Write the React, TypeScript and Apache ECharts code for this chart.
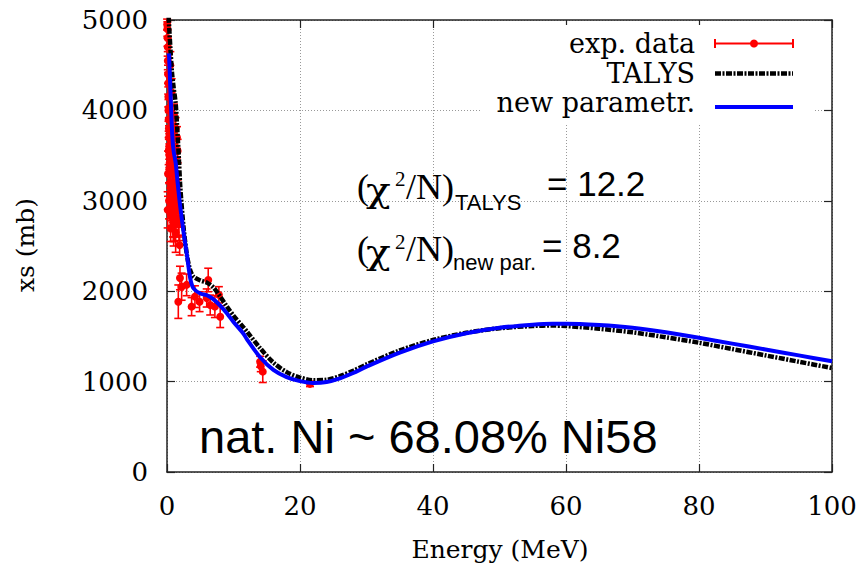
import React, { useEffect, useRef } from "react";
import * as echarts from "echarts";

// ---- data ----
const talysE = [0.05, 0.2, 0.5, 0.75, 1, 1.3, 1.5, 1.8, 2, 2.5, 3, 3.5, 4, 5, 6, 7, 8, 9, 10, 11.5, 12, 14, 16, 18, 20, 22, 24, 26, 28, 30, 35, 40, 45, 50, 55, 58, 60, 65, 70, 75, 80, 85, 90, 95, 100];
const talysXs = [5400, 5100, 4700, 4420, 4250, 4080, 3850, 3450, 3150, 2700, 2400, 2230, 2160, 2120, 2095, 2040, 1940, 1830, 1730, 1600, 1555, 1370, 1210, 1105, 1045, 1015, 1020, 1060, 1120, 1190, 1345, 1460, 1540, 1590, 1615, 1620, 1615, 1585, 1545, 1490, 1430, 1360, 1290, 1220, 1150];

const newE = [0.3, 0.5, 0.8, 1, 1.3, 1.6, 2, 2.5, 3, 3.5, 4, 5, 6, 7, 8, 9, 10, 11.5, 12, 14, 16, 18, 20, 22, 24, 26, 28, 30, 35, 40, 45, 50, 55, 58, 60, 65, 70, 75, 80, 85, 90, 95, 100];
const newXs = [4630, 4250, 3710, 3550, 3420, 3200, 2930, 2650, 2400, 2140, 2030, 1975, 1955, 1910, 1840, 1755, 1660, 1530, 1470, 1270, 1130, 1050, 1005, 985, 995, 1035, 1095, 1165, 1320, 1445, 1535, 1595, 1630, 1640, 1640, 1625, 1595, 1545, 1485, 1420, 1355, 1290, 1225];

// experimental points: energy (MeV), xs (mb), error (mb)
const expE = [0.02, 0.05, 0.08, 0.1, 0.12, 0.15, 0.18, 0.2, 0.22, 0.25, 0.28, 0.3, 0.33, 0.36, 0.4, 0.45, 0.5, 0.55, 0.6, 0.65, 0.7, 0.75, 0.8, 0.85, 0.9, 0.95, 1.0, 0.4, 0.6, 0.8, 1.0, 1.2, 1.3, 1.4, 0.9, 0.7, 0.5, 1.1, 1.2, 0.3, 0.15, 0.1, 1.3, 1.5, 1.6, 1.05, 1.15, 0.55,
  1.2, 1.4, 1.5, 1.6, 1.7, 1.8, 1.1, 1.3, 0.65, 0.85, 0.35, 0.25, 0.95, 1.45, 1.65,
  1.9, 1.95, 1.7, 2.2, 2.95, 3.7, 4.2, 4.9, 5.97, 6.2, 6.5, 7.2, 8.0, 7.8, 14.0, 14.1, 14.4, 21.5];
const expXs = [4950, 4900, 4800, 4700, 4550, 4400, 4300, 4150, 4000, 3900, 3800, 3700, 3600, 3500, 3420, 3350, 3300, 3200, 3150, 3080, 3000, 2950, 2900, 2850, 2800, 2760, 2720, 3900, 3650, 3500, 3400, 3300, 3100, 2950, 3200, 4200, 4500, 3700, 2800, 3000, 3300, 2900, 3800, 3700, 3550, 3950, 3600, 2700,
  3000, 3200, 2900, 3050, 2800, 2750, 2750, 2650, 2850, 3100, 3350, 3550, 2950, 3300, 2900,
  2510, 2146, 1884, 2050, 2070, 1829, 1940, 1884, 1925, 2124, 1847, 1829, 1718, 1960, 1220, 1170, 1110, 975];
const expErr = [60, 80, 90, 100, 100, 100, 120, 110, 120, 130, 120, 130, 140, 130, 150, 140, 160, 150, 170, 160, 180, 170, 200, 190, 200, 210, 220, 150, 150, 160, 170, 180, 200, 200, 150, 150, 150, 150, 200, 200, 250, 200, 120, 120, 130, 120, 130, 150,
  180, 170, 190, 180, 200, 190, 200, 220, 180, 170, 160, 150, 190, 170, 190,
  110, 130, 185, 150, 120, 100, 120, 110, 100, 130, 110, 120, 120, 90, 60, 60, 120, 30];

const xMin = 0, xMax = 100, xStep = 20;
const yMin = 0, yMax = 5000, yStep = 1000;

const serif = "DejaVu Serif";
const sans = "Liberation Sans";
const times = "Liberation Serif";

export default function App() {
  const ref = useRef<HTMLDivElement>(null);
  useEffect(() => {
    if (!ref.current) return;
    const chart = echarts.init(ref.current, undefined, { renderer: "svg" });
    const talysData = talysE.map((e, i) => [e, talysXs[i]]);
    const newData = newE.map((e, i) => [e, newXs[i]]);
    const expData = expE.map((e, i) => [e, expXs[i], expErr[i]]);
    const red = "#ff0000";
    const axisColor = "#222";
    const gridLine = { show: true, lineStyle: { color: "#999", width: 1, type: [1, 2] as any } };
    const txt = (x: number, y: number, text: string, font: string, align = "left", extra: any = {}) => ({
      type: "text", z: 10, x, y, ...extra,
      style: { text, font, fill: "#000", align, verticalAlign: "middle" },
    });

    const option: any = {
      animation: false,
      backgroundColor: "#fff",
      grid: { left: 167, right: 31, top: 20, bottom: 97, containLabel: false },
      xAxis: [
        {
          type: "value", min: xMin, max: xMax, interval: xStep,
          axisLine: { show: true, onZero: false, lineStyle: { color: axisColor, width: 1.5 } },
          axisTick: { show: true, inside: true, length: 8, lineStyle: { color: axisColor, width: 1.2 } },
          axisLabel: { color: "#000", fontFamily: serif, fontSize: 26, margin: 21, formatter: (v: number) => String(v) },
          splitLine: gridLine,
        },
        {
          type: "value", position: "top", min: xMin, max: xMax, interval: xStep,
          axisLine: { show: true, onZero: false, lineStyle: { color: axisColor, width: 1.5 } },
          axisTick: { show: true, inside: true, length: 8, lineStyle: { color: axisColor, width: 1.2 } },
          axisLabel: { show: false }, splitLine: { show: false },
        },
      ],
      yAxis: [
        {
          type: "value", min: yMin, max: yMax, interval: yStep,
          axisLine: { show: true, onZero: false, lineStyle: { color: axisColor, width: 1.5 } },
          axisTick: { show: true, inside: true, length: 8, lineStyle: { color: axisColor, width: 1.2 } },
          axisLabel: { color: "#000", fontFamily: serif, fontSize: 26, margin: 19, formatter: (v: number) => String(v) },
          splitLine: gridLine,
        },
        {
          type: "value", position: "right", min: yMin, max: yMax, interval: yStep,
          axisLine: { show: true, onZero: false, lineStyle: { color: axisColor, width: 1.5 } },
          axisTick: { show: true, inside: true, length: 8, lineStyle: { color: axisColor, width: 1.2 } },
          axisLabel: { show: false }, splitLine: { show: false },
        },
      ],
      series: [
        {
          name: "exp. data",
          type: "custom",
          xAxisIndex: 0, yAxisIndex: 0,
          z: 2,
          data: expData,
          renderItem: (params: any, api: any) => {
            const x = api.value(0), y = api.value(1), e = api.value(2);
            const p = api.coord([x, y]);
            const t = api.coord([x, y + e]);
            const b = api.coord([x, y - e]);
            const st = { stroke: red, lineWidth: 1.6 };
            return {
              type: "group",
              children: [
                { type: "line", shape: { x1: p[0], y1: t[1], x2: p[0], y2: b[1] }, style: st },
                { type: "line", shape: { x1: p[0] - 4, y1: t[1], x2: p[0] + 4, y2: t[1] }, style: st },
                { type: "line", shape: { x1: p[0] - 4, y1: b[1], x2: p[0] + 4, y2: b[1] }, style: st },
                { type: "circle", shape: { cx: p[0], cy: p[1], r: 4 }, style: { fill: red } },
              ],
            };
          },
        },
        {
          name: "TALYS",
          type: "line",
          data: talysData,
          showSymbol: false,
          smooth: 0.3,
          z: 3,
          lineStyle: { color: "#000", width: 4.5, type: [6, 1.5, 2, 1.5] },
        },
        {
          name: "new parametr.",
          type: "line",
          data: newData,
          showSymbol: false,
          smooth: 0.3,
          z: 4,
          lineStyle: { color: "#0000ff", width: 4 },
        },
      ],
      graphic: [
        // legend background
        { type: "rect", z: 1, shape: { x: 480, y: 25, width: 334, height: 100 }, style: { fill: "#fff" } },
        txt(695, 43, "exp. data", `27px '${serif}'`, "right"),
        txt(695, 73, "TALYS", `27px '${serif}'`, "right"),
        txt(695, 102, "new parametr.", `27px '${serif}'`, "right"),
        { type: "line", z: 10, shape: { x1: 715, y1: 43.5, x2: 793, y2: 43.5 }, style: { stroke: red, lineWidth: 2 } },
        { type: "line", z: 10, shape: { x1: 715, y1: 39, x2: 715, y2: 48 }, style: { stroke: red, lineWidth: 2 } },
        { type: "line", z: 10, shape: { x1: 793, y1: 39, x2: 793, y2: 48 }, style: { stroke: red, lineWidth: 2 } },
        { type: "circle", z: 10, shape: { cx: 754, cy: 43.5, r: 4 }, style: { fill: red } },
        { type: "line", z: 10, shape: { x1: 715, y1: 73.5, x2: 793, y2: 73.5 }, style: { stroke: "#000", lineWidth: 4.5, lineDash: [6, 1.5, 2, 1.5] } },
        { type: "line", z: 10, shape: { x1: 715, y1: 107, x2: 793, y2: 107 }, style: { stroke: "#0000ff", lineWidth: 4 } },
        // chi^2 annotations
        txt(357, 187, "(", `36px '${times}'`),
        txt(366, 190, "χ", `34px '${serif}'`, "left", { scaleX: 1.2 }),
        txt(395, 179, "2", `21px '${times}'`),
        txt(406, 187, "/N)", `36px '${times}'`),
        txt(455, 202, "TALYS", `22px '${sans}'`),
        txt(547, 183, "= 12.2", `35px '${sans}'`),
        txt(357, 249, "(", `36px '${times}'`),
        txt(366, 252, "χ", `34px '${serif}'`, "left", { scaleX: 1.2 }),
        txt(395, 242, "2", `21px '${times}'`),
        txt(406, 249, "/N)", `36px '${times}'`),
        txt(453, 262, "new par.", `22px '${sans}'`),
        txt(542, 245, "= 8.2", `35px '${sans}'`),
        // big label
        txt(199, 436, "nat. Ni ~ 68.08% Ni58", `47px '${sans}'`),
        // axis names
        txt(500, 549, "Energy (MeV)", `25px '${serif}'`, "center"),
        txt(25, 245, "xs (mb)", `25px '${serif}'`, "center", { rotation: Math.PI / 2 }),
      ],
    };
    chart.setOption(option);
    return () => chart.dispose();
  }, []);
  return <div ref={ref} style={{ position: "fixed", left: 0, top: 0, width: 863, height: 569 }} />;
}
